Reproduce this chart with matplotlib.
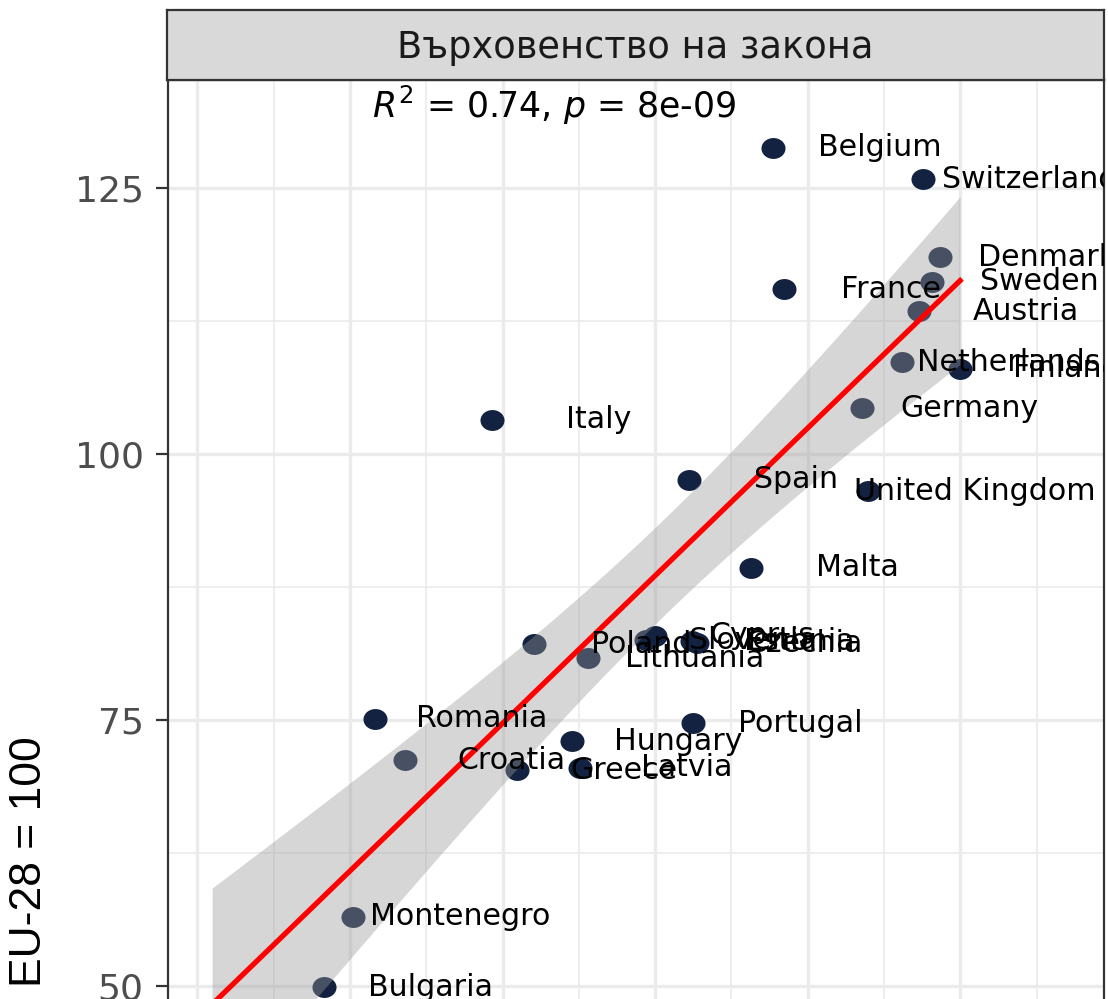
import numpy as np
import matplotlib.pyplot as plt
from matplotlib.path import Path
from matplotlib.ticker import MultipleLocator

plt.rcParams['font.family'] = ['DejaVu Sans']

countries = ['Belgium', 'Switzerland', 'Denmark', 'Sweden', 'France', 'Austria',
             'Netherlands', 'Finland', 'Germany', 'Italy', 'Spain', 'United Kingdom',
             'Malta', 'Slovenia', 'Cyprus', 'Estonia', 'Czechia', 'Poland',
             'Lithuania', 'Romania', 'Croatia', 'Greece', 'Hungary', 'Latvia',
             'Portugal', 'Montenegro', 'Bulgaria', 'Serbia']
rule_of_law = [1.386, 1.877, 1.933, 1.907, 1.422, 1.864,
               1.809, 1.999, 1.678, 0.465, 1.111, 1.697,
               1.314, 0.970, 0.999, 1.121, 1.137, 0.603,
               0.780, 0.082, 0.180, 0.547, 0.727, 0.754,
               1.124, 0.010, -0.085, -0.452]
price_index = [128.8, 125.8, 118.5, 116.2, 115.5, 113.4,
               108.6, 108.0, 104.3, 103.2, 97.6, 96.5,
               89.3, 82.5, 82.9, 82.4, 82.2, 82.1,
               80.8, 75.1, 71.2, 70.3, 73.0, 70.5,
               74.7, 56.5, 49.9, 46.8]

facet_title = 'Върховенство на закона'
stat_label = r'$R^2$ = 0.74, $p$ = 8e-09'

x = np.array(rule_of_law)
y = np.array(price_index)

# linear fit with 95% confidence band
slope, intercept = np.polyfit(x, y, 1)
n = len(x)
resid = y - (intercept + slope * x)
s = np.sqrt(np.sum(resid ** 2) / (n - 2))
sxx = np.sum((x - x.mean()) ** 2)
xs = np.linspace(x.min(), x.max(), 200)
fit = intercept + slope * xs
band = 2.056 * s * np.sqrt(1 / n + (xs - x.mean()) ** 2 / sxx)

W, H = 1108, 999
fig = plt.figure(figsize=(W / 100, H / 100), dpi=100)

ax = fig.add_axes([168 / W, 1 - 1644 / H, (1104 - 168) / W, (1644 - 80) / H])
ax.set_xlim(-0.5963, 2.4705)
ax.set_ylim(-11.84, 135.15)

ax.xaxis.set_major_locator(MultipleLocator(0.5))
ax.xaxis.set_minor_locator(MultipleLocator(0.25))
ax.set_yticks([50, 75, 100, 125])
ax.yaxis.set_minor_locator(MultipleLocator(12.5))
ax.grid(which='major', color='#EBEBEB', lw=2.4)
ax.grid(which='minor', color='#EBEBEB', lw=1.2)
ax.set_axisbelow(True)
ax.tick_params(axis='y', which='major', length=8.5, width=1.6, color='#333333',
               labelsize=26, labelcolor='#4D4D4D', pad=9)
ax.tick_params(which='minor', length=0)
ax.tick_params(axis='x', labelbottom=False)
for sp in ax.spines.values():
    sp.set_color('#333333')
    sp.set_linewidth(1.6)

# ellipse-shaped dots
circle = Path.unit_circle()
dot = Path(circle.vertices * [1.15, 1.0], circle.codes)

ax.scatter(x, y, s=300, marker=dot, color='#132240', linewidths=0, zorder=2)
ax.fill_between(xs, fit - band, fit + band, color='#999999', alpha=0.4, lw=0, zorder=3)
ax.plot(xs, fit, color='red', lw=3.8, zorder=3.5)

for name, xi, yi in zip(countries, x, y):
    ax.text(xi + 0.35, yi, name, ha='center', va='center', fontsize=21.6,
            color='black', zorder=4, clip_on=True)

ax.text(0.072, 132.8, stat_label, ha='left', va='center', fontsize=25, color='black')

# facet strip
strip = fig.add_axes([167 / W, 1 - 80 / H, (1104 - 167) / W, 70 / H])
strip.set_facecolor('#D9D9D9')
strip.set_xticks([])
strip.set_yticks([])
for sp in strip.spines.values():
    sp.set_color('#333333')
    sp.set_linewidth(1.6)
strip.text(0.5, 0.47, facet_title, ha='center', va='center', fontsize=26.5,
           color='#1A1A1A', transform=strip.transAxes)

fig.text(30 / W, 1 - 862 / H, 'EU-28 = 100', rotation=90, ha='center', va='center',
         fontsize=32, family='Liberation Sans', color='black')

fig.savefig('out.png', dpi=100)
